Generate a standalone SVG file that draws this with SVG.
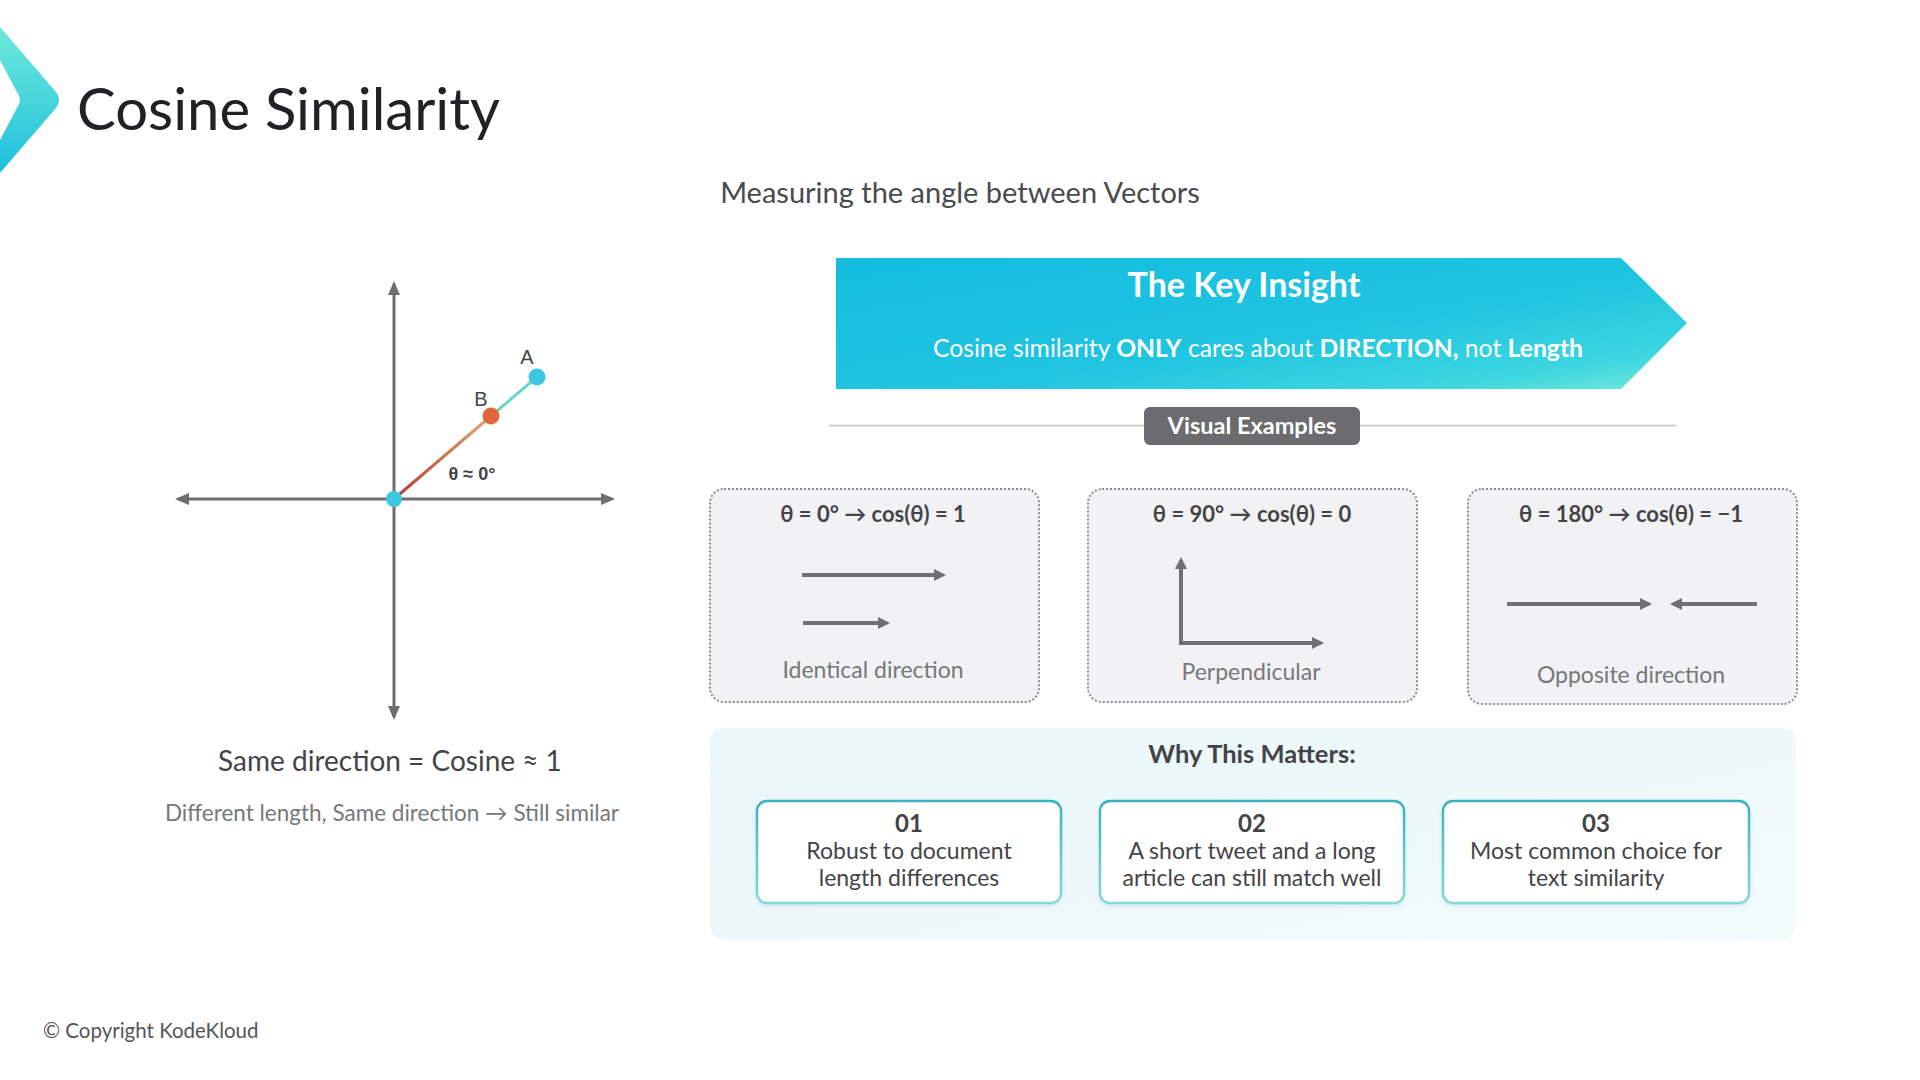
<svg xmlns="http://www.w3.org/2000/svg" width="1920" height="1080" viewBox="0 0 1920 1080">
<style>
text{font-family:Lato,"Open Sans","Noto Sans",sans-serif}
.title{font-size:58px;fill:#222226}
.sub{font-size:29px;fill:#4a4a4e}
.axis{stroke:#6e6e70;stroke-width:3;fill:none}
.vec{stroke:#707072;stroke-width:4;fill:none}
.card{fill:#f2f2f4;stroke:#8c8c8e;stroke-width:2;stroke-dasharray:2 2}
.ctitle{font-size:22px;font-weight:700;fill:#444448;text-anchor:middle}
.clabel{font-size:23px;fill:#77777a;text-anchor:middle}
.box{fill:#ffffff;stroke:url(#boxStroke);stroke-width:2.5}
.num{font-size:24px;font-weight:700;fill:#444448;text-anchor:middle}
.btext{font-size:23px;fill:#444448;text-anchor:middle}
.pt{font-family:"Liberation Sans",Arial,sans-serif}
</style>
<defs>
<linearGradient id="chev" x1="0" y1="0" x2="0" y2="1">
<stop offset="0" stop-color="#6ee9da"/>
<stop offset="1" stop-color="#1fc0dd"/>
</linearGradient>
<linearGradient id="banner" x1="0" y1="0" x2="1" y2="1">
<stop offset="0" stop-color="#14bde0"/>
<stop offset="0.55" stop-color="#1fc4e0"/>
<stop offset="0.85" stop-color="#3dd6e0"/>
<stop offset="1" stop-color="#74ecda"/>
</linearGradient>
<linearGradient id="panel" x1="0" y1="0" x2="1" y2="1">
<stop offset="0" stop-color="#e9f6fa"/>
<stop offset="1" stop-color="#f3fbfd"/>
</linearGradient>
<linearGradient id="boxStroke" x1="0" y1="0" x2="0" y2="1">
<stop offset="0" stop-color="#38b2c4"/>
<stop offset="1" stop-color="#84dad8"/>
</linearGradient>
<linearGradient id="vecB" gradientUnits="userSpaceOnUse" x1="394" y1="499" x2="491" y2="416">
<stop offset="0" stop-color="#a8403a"/>
<stop offset="1" stop-color="#e4a66c"/>
</linearGradient>
<filter id="shadow" x="-10%" y="-10%" width="120%" height="130%">
<feDropShadow dx="0" dy="2" stdDeviation="2" flood-color="#7fb8c4" flood-opacity="0.25"/>
</filter>
<marker id="ah" viewBox="0 0 14 12" refX="11" refY="6" markerWidth="14" markerHeight="12" markerUnits="userSpaceOnUse" orient="auto-start-reverse">
<path d="M0,0 L14,6 L0,12 z" fill="#6e6e70"/>
</marker>
<marker id="ah2" viewBox="0 0 12 12" refX="9" refY="6" markerWidth="12" markerHeight="12" markerUnits="userSpaceOnUse" orient="auto-start-reverse">
<path d="M0,0 L12,6 L0,12 z" fill="#707072"/>
</marker>
</defs>

<rect x="0" y="0" width="1920" height="1080" fill="#ffffff"/>

<g id="header">
<path d="M0,27 L56,92 Q62,100 56,108 L0,173 L0,140 L19,104 Q21,100 19,96 L0,60 Z" fill="url(#chev)"/>
<text class="title" x="77" y="130">Cosine Similarity</text>
<text class="sub" x="960" y="203" text-anchor="middle">Measuring the angle between Vectors</text>
</g>

<g id="graph">
<line class="axis" x1="178" y1="499" x2="612" y2="499" marker-start="url(#ah)" marker-end="url(#ah)"/>
<line class="axis" x1="394" y1="284" x2="394" y2="717" marker-start="url(#ah)" marker-end="url(#ah)"/>
<line x1="394" y1="499" x2="491" y2="416" stroke="url(#vecB)" stroke-width="3"/>
<line x1="491" y1="416" x2="537" y2="377" stroke="#6dd4cc" stroke-width="3"/>
<circle id="origin" cx="394" cy="499" r="8" fill="#3cc8e0"/>
<circle id="pointB" cx="491" cy="416" r="8.5" fill="#e2663c"/>
<circle id="pointA" cx="537" cy="377" r="8.5" fill="#3cc8e0"/>
<text class="pt" x="527" y="364" font-size="20" fill="#444448" text-anchor="middle">A</text>
<text class="pt" x="481" y="406" font-size="20" fill="#444448" text-anchor="middle">B</text>
<text class="pt" x="472" y="480" font-size="18" font-weight="700" fill="#444448" text-anchor="middle">θ ≈ 0°</text>
<text x="390" y="771" font-size="28" fill="#444448" text-anchor="middle">Same direction = Cosine ≈ 1</text>
<text x="392" y="821" font-size="22.5" fill="#77777a" text-anchor="middle">Different length, Same direction → Still similar</text>
</g>

<g id="key-insight">
<path d="M836,258 L1621,258 L1687,323 L1621,389 L836,389 Z" fill="url(#banner)"/>
<text x="1244" y="297" font-size="34" font-weight="700" fill="#ffffff" text-anchor="middle">The Key Insight</text>
<text x="1258" y="357" font-size="24.7" fill="#ffffff" text-anchor="middle">Cosine similarity <tspan font-weight="700">ONLY</tspan> cares about <tspan font-weight="700">DIRECTION,</tspan> not <tspan font-weight="700">Length</tspan></text>
</g>

<g id="visual-examples">
<line x1="829" y1="425.5" x2="1676" y2="425.5" stroke="#c4c4c6" stroke-width="1.5"/>
<rect x="1144" y="407" width="216" height="38" rx="6" fill="#6c6c70"/>
<text x="1252" y="434" font-size="23.5" font-weight="700" fill="#ffffff" text-anchor="middle">Visual Examples</text>
</g>

<g id="card-identical">
<rect class="card" x="710" y="489" width="329" height="213" rx="14"/>
<text class="ctitle" x="873" y="522">θ = 0° → cos(θ) = 1</text>
<text class="clabel" x="873" y="678">Identical direction</text>
</g>
<g id="card-perpendicular">
<rect class="card" x="1088" y="489" width="329" height="213" rx="14"/>
<text class="ctitle" x="1252" y="522">θ = 90° → cos(θ) = 0</text>
<text class="clabel" x="1251" y="680">Perpendicular</text>
</g>
<g id="card-opposite">
<rect class="card" x="1468" y="489" width="329" height="215" rx="14"/>
<text class="ctitle" x="1631" y="522">θ = 180° → cos(θ) = −1</text>
<text class="clabel" x="1631" y="683">Opposite direction</text>
</g>

<g id="connectors">
<line class="vec" x1="802" y1="575" x2="943" y2="575" marker-end="url(#ah2)"/>
<line class="vec" x1="803" y1="623" x2="887" y2="623" marker-end="url(#ah2)"/>
<polyline class="vec" points="1181,560 1181,643 1321,643" marker-start="url(#ah2)" marker-end="url(#ah2)"/>
<line class="vec" x1="1507" y1="604" x2="1649" y2="604" marker-end="url(#ah2)"/>
<line class="vec" x1="1757" y1="604" x2="1673" y2="604" marker-end="url(#ah2)"/>
</g>

<g id="why-matters">
<rect x="710" y="728" width="1086" height="212" rx="14" fill="url(#panel)"/>
<text x="1252" y="763" font-size="25.5" font-weight="700" fill="#444448" text-anchor="middle">Why This Matters:</text>
</g>
<g id="reason-01">
<rect class="box" x="757" y="801" width="304" height="102" rx="10" filter="url(#shadow)"/>
<text class="num" x="909" y="832">01</text>
<text class="btext" x="909" y="859">Robust to document</text>
<text class="btext" x="909" y="886">length differences</text>
</g>
<g id="reason-02">
<rect class="box" x="1100" y="801" width="304" height="102" rx="10" filter="url(#shadow)"/>
<text class="num" x="1252" y="832">02</text>
<text class="btext" x="1252" y="859">A short tweet and a long</text>
<text class="btext" x="1252" y="886">article can still match well</text>
</g>
<g id="reason-03">
<rect class="box" x="1443" y="801" width="306" height="102" rx="10" filter="url(#shadow)"/>
<text class="num" x="1596" y="832">03</text>
<text class="btext" x="1596" y="859">Most common choice for</text>
<text class="btext" x="1596" y="886">text similarity</text>
</g>

<g id="footer">
<text x="43" y="1038" font-size="20.5" fill="#555558">© Copyright KodeKloud</text>
</g>
</svg>
